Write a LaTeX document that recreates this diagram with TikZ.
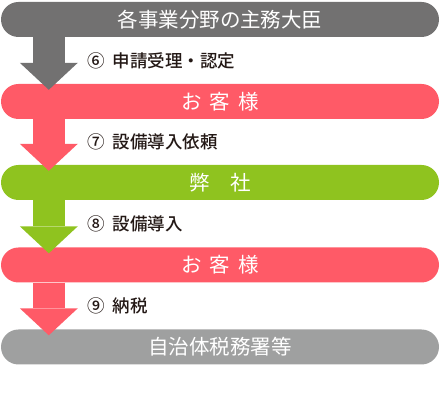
\documentclass[tikz,border=0pt]{standalone}
\usepackage{fontspec}
\usepackage{xcolor}
\usepackage{tikz}
\usetikzlibrary{arrows.meta, positioning, calc}
\newfontfamily\jpfont{Noto Sans CJK JP}
\newfontfamily\jplabelfont{Noto Sans CJK JP Medium}
\definecolor{darkbar}{RGB}{114,113,113}
\definecolor{pinkbar}{RGB}{255,90,103}
\definecolor{greenbar}{RGB}{143,195,31}
\definecolor{lightbar}{RGB}{159,160,160}
\definecolor{labelblack}{RGB}{35,24,21}
\begin{document}
\begin{tikzpicture}[x=1pt, y=1pt,
	bar/.style={fill=#1, rectangle, rounded corners=17.5pt, minimum width=438pt, minimum height=35pt, inner sep=0pt, text=white, font=\jpfont\fontsize{20.5pt}{20.5pt}\selectfont},
	steplabel/.style={anchor=west, inner sep=0pt, text=labelblack, font=\jplabelfont\fontsize{17.5pt}{17.5pt}\selectfont},
	flow/.style={draw=#1, line width=32pt, -{Triangle[length=27pt, width=58pt, line width=0pt]}}]
	\useasboundingbox (0,0) rectangle (440,420);
	\node[bar=darkbar] (minister) at (220,400.5) {各事業分野の主務大臣};
	\node[bar=pinkbar] (customerA) at (220,318.5) {お\hspace{8pt}客\hspace{8pt}様};
	\node[bar=greenbar] (company) at (220,237.5) {弊　社};
	\node[bar=pinkbar] (customerB) at (220,155) {お\hspace{8pt}客\hspace{8pt}様};
	\node[bar=lightbar] (taxoffice) at (220,73) {自治体税務署等};
	\draw[flow=darkbar] ([xshift=48pt]minister.south west) -- ([xshift=48pt, yshift=-6pt]customerA.north west);
	\draw[flow=pinkbar] ([xshift=48pt]customerA.south west) -- ([xshift=48pt, yshift=-6pt]company.north west);
	\draw[flow=greenbar] ([xshift=48pt]company.south west) -- ([xshift=48pt, yshift=-6pt]customerB.north west);
	\draw[flow=pinkbar] ([xshift=48pt]customerB.south west) -- ([xshift=48pt, yshift=-6pt]taxoffice.north west);
	\node[steplabel] (step6) at (87,359.5) {⑥\hspace{8pt}申請受理・認定};
	\node[steplabel] (step7) at (87,278) {⑦\hspace{8pt}設備導入依頼};
	\node[steplabel] (step8) at (87,196.5) {⑧\hspace{8pt}設備導入};
	\node[steplabel] (step9) at (87,114) {⑨\hspace{8pt}納税};
\end{tikzpicture}
\end{document}
